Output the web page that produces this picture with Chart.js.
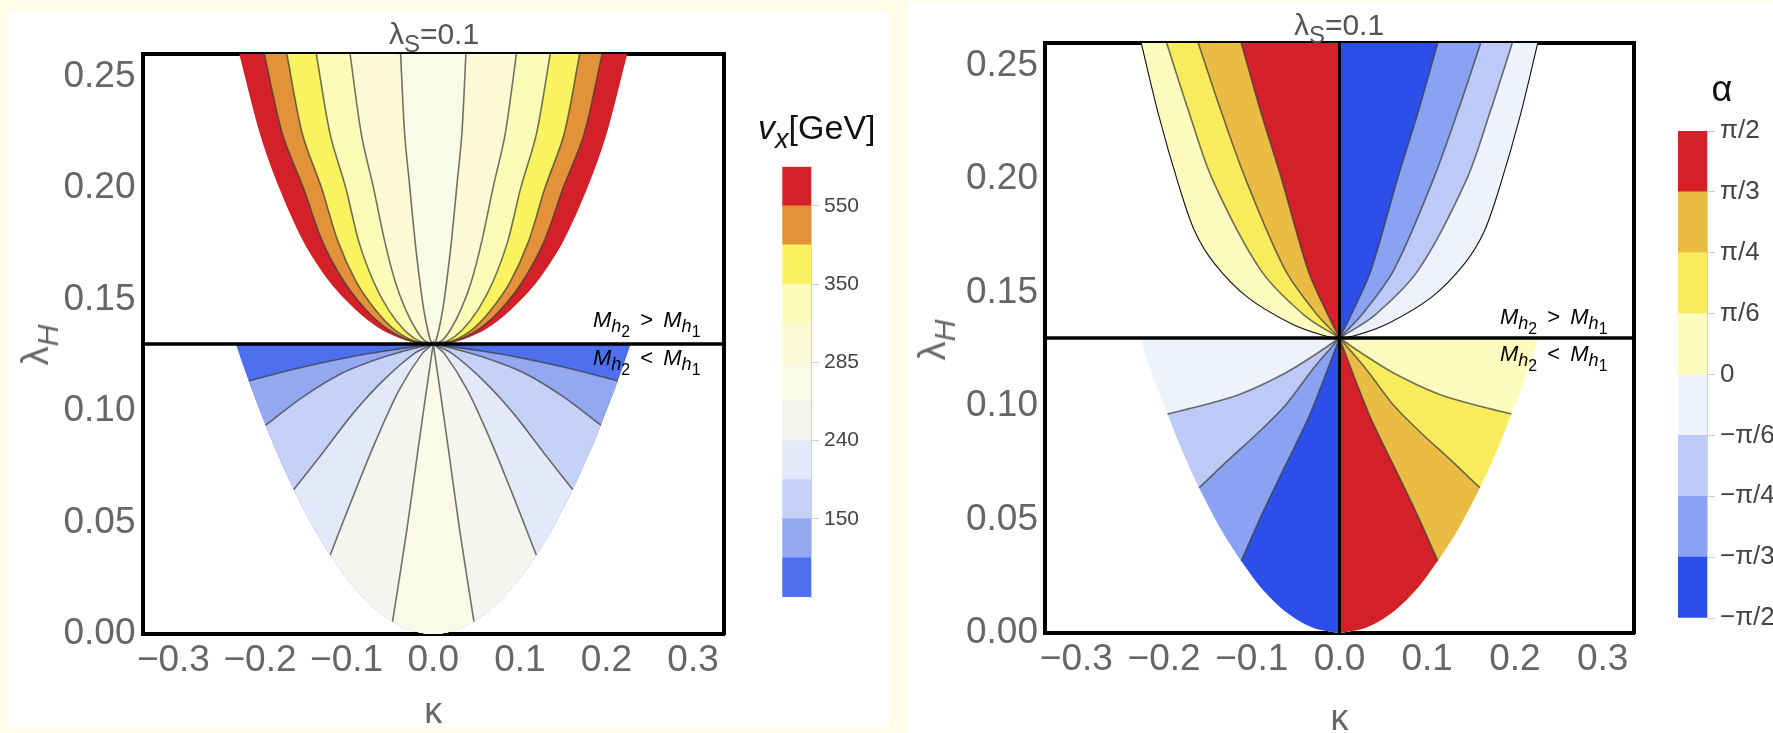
<!DOCTYPE html>
<html>
<head>
<meta charset="utf-8">
<script src="https://cdn.jsdelivr.net/npm/chart.js@4.4.0/dist/chart.umd.min.js"></script>
<style>
  html, body { margin: 0; padding: 0; width: 1773px; height: 733px; overflow: hidden;
               background: #fefde8; font-family: "Liberation Sans", Arial, sans-serif; }
  .panel { position: absolute; background: #fff; }
  canvas { position: absolute; }
  .lbl { position: absolute; white-space: nowrap; line-height: 1; }
  sub { font-size: 0.8em; vertical-align: -0.32em; line-height: 0; }
  .mh { font-size: 22px; color: #000; word-spacing: 4px; }
  .mh sub { font-size: 0.82em; vertical-align: -0.3em; }
  .mh sub sub { font-size: 0.88em; vertical-align: -0.3em; }
</style>
</head>
<body>
<div class="panel" style="left:9px;top:12px;width:881px;height:715px"></div>
<div class="panel" style="left:908px;top:2px;width:865px;height:731px"></div>

<canvas id="vxPlot" style="left:0;top:0" width="890" height="733"></canvas>
<canvas id="vxBar" style="left:765px;top:140px" width="125" height="480"></canvas>
<canvas id="alphaPlot" style="left:908px;top:0" width="865" height="745"></canvas>
<canvas id="alphaBar" style="left:1660px;top:105px" width="113" height="540"></canvas>

<div class="lbl" style="left:434px;top:34px;transform:translate(-50%,-50%);font-size:30px;color:#555">λ<sub>S</sub>=0.1</div>
<div class="lbl" style="left:1339px;top:25px;transform:translate(-50%,-50%);font-size:30px;color:#555">λ<sub>S</sub>=0.1</div>
<div class="lbl" style="left:35px;top:345px;transform:translate(-50%,-50%) rotate(-90deg);font-size:38px;color:#666">λ<sub><i>H</i></sub></div>
<div class="lbl" style="left:932px;top:340px;transform:translate(-50%,-50%) rotate(-90deg);font-size:38px;color:#666">λ<sub><i>H</i></sub></div>

<div class="lbl mh" style="left:593px;top:309px"><i>M</i><sub><i>h</i><sub>2</sub></sub> &gt; <i>M</i><sub><i>h</i><sub>1</sub></sub></div>
<div class="lbl mh" style="left:593px;top:347px"><i>M</i><sub><i>h</i><sub>2</sub></sub> &lt; <i>M</i><sub><i>h</i><sub>1</sub></sub></div>
<div class="lbl mh" style="left:1500px;top:306px"><i>M</i><sub><i>h</i><sub>2</sub></sub> &gt; <i>M</i><sub><i>h</i><sub>1</sub></sub></div>
<div class="lbl mh" style="left:1500px;top:343px"><i>M</i><sub><i>h</i><sub>2</sub></sub> &lt; <i>M</i><sub><i>h</i><sub>1</sub></sub></div>

<div class="lbl" style="left:758px;top:110px;font-size:34px;color:#111"><i>v</i><sub><i>x</i></sub>[GeV]</div>
<div class="lbl" style="left:1722px;top:89px;transform:translate(-50%,-50%);font-size:36px;color:#111">α</div>

<script>
// axes of both panels (κ horizontal, λ_H vertical, λ_S = 0.1)
const kappaTicks = [-0.3, -0.2, -0.1, 0, 0.1, 0.2, 0.3];
const lambdaTicks = [0, 0.05, 0.1, 0.15, 0.2, 0.25];
const kappaMax = 0.3357;
const lambdaMax = 0.26;
const vertex = [0, 0.13];          // M_h2 = M_h1

// ---- v_x panel ----
// outer edge of the M_h2 > M_h1 region, κ >= 0 half
const vxUpperEdge = [[0, 0.13], [0.03, 0.1315], [0.06, 0.1365], [0.09, 0.1455], [0.12, 0.158],
                     [0.15, 0.176], [0.178, 0.2], [0.2, 0.224], [0.224, 0.26]];
// contour lines above the vertex, outermost first (κ >= 0 half, vertex -> top)
const vxUp1 = [[0, 0.13], [0.026, 0.1315], [0.052, 0.1365], [0.078, 0.1455], [0.103, 0.158], [0.128, 0.176], [0.15, 0.2], [0.174, 0.224], [0.195, 0.26]];
const vxUp2 = [[0, 0.13], [0.0225, 0.1315], [0.045, 0.1365], [0.067, 0.1455], [0.089, 0.158], [0.11, 0.176], [0.129, 0.2], [0.151, 0.224], [0.169, 0.26]];
const vxUp3 = [[0, 0.13], [0.017, 0.1315], [0.034, 0.1365], [0.052, 0.1455], [0.069, 0.158], [0.086, 0.176], [0.101, 0.2], [0.119, 0.224], [0.135, 0.26]];
const vxUp4 = [[0, 0.13], [0.01, 0.1315], [0.02, 0.1365], [0.032, 0.1455], [0.044, 0.158], [0.056, 0.176], [0.069, 0.2], [0.083, 0.224], [0.096, 0.26]];
const vxUp5 = [[0, 0.13], [0.003, 0.1315], [0.0065, 0.1365], [0.011, 0.1455], [0.0155, 0.158], [0.021, 0.176], [0.027, 0.2], [0.033, 0.224], [0.0377, 0.26]];
const vxUpperColors = ['#d32029', '#e3923a', '#f9f35f', '#fdfbb8', '#fbfad4', '#fafbe6'];

// stability edge of the M_h2 < M_h1 region, κ >= 0 half
const vxLowerEdge = [[0, 0], [0.025, 0.0016], [0.047, 0.0055], [0.07, 0.0123], [0.095, 0.0226], [0.119, 0.0354],
                     [0.14, 0.049], [0.161, 0.0648], [0.18, 0.081], [0.1935, 0.0936], [0.213, 0.1134], [0.228, 0.13]];
// contour lines below the vertex, outermost first (vertex -> edge)
const vxDown1 = [[0, 0.13], [0.0393, 0.1278], [0.0837, 0.1251], [0.128, 0.1216], [0.1725, 0.1176], [0.213, 0.1134]];
const vxDown2 = [[0, 0.13], [0.0216, 0.1281], [0.0615, 0.1236], [0.106, 0.1168], [0.15, 0.1064], [0.1935, 0.0936]];
const vxDown3 = [[0, 0.13], [0.0216, 0.1258], [0.0571, 0.1139], [0.0926, 0.0989], [0.128, 0.081], [0.161, 0.0648]];
const vxDown4 = [[0, 0.13], [0.0127, 0.1258], [0.0393, 0.1094], [0.0659, 0.087], [0.0926, 0.0616], [0.119, 0.0354]];
const vxDown5 = [[0, 0.13], [0.0061, 0.1139], [0.0171, 0.084], [0.0305, 0.0466], [0.047, 0.0055]];
const vxLowerColors = ['#4e70ee', '#94a8f2', '#c6d1f7', '#e4e9f9', '#f3f5ee', '#fafbe6'];

// v_x colour bar, bottom -> top
const vxBandColors = ['#4e70ee', '#94a8f2', '#c6d1f7', '#e4e9f9', '#f3f5ee', '#fafbe6',
                      '#fbfad4', '#fdfbb8', '#f9f35f', '#e3923a', '#d32029'];
const vxBarTicks = [2, 4, 6, 8, 10];
const vxBarLabels = ['150', '240', '285', '350', '550'];

// ---- mixing angle panel ----
const alphaUpperEdge = [[0, 0.13], [0.02, 0.1313], [0.056, 0.1365], [0.105, 0.148], [0.143, 0.163],
                        [0.165, 0.177], [0.183, 0.197], [0.206, 0.228], [0.226, 0.26]];
// |α| = π/6, π/4, π/3 above the vertex (|κ| half, vertex -> top)
const alphaUp1 = [[0, 0.13], [0.04, 0.14], [0.09, 0.16], [0.145, 0.2], [0.172, 0.23], [0.197, 0.26]];
const alphaUp2 = [[0, 0.13], [0.025, 0.14], [0.062, 0.16], [0.107, 0.2], [0.135, 0.23], [0.161, 0.26]];
const alphaUp3 = [[0, 0.13], [0.013, 0.14], [0.036, 0.16], [0.066, 0.2], [0.09, 0.23], [0.112, 0.26]];
const alphaLowerEdge = [[0, 0], [0.03, 0.0023], [0.06, 0.009], [0.09, 0.0203], [0.112, 0.0318], [0.135, 0.0456],
                        [0.16, 0.064], [0.18, 0.081], [0.196, 0.0965], [0.212, 0.1124], [0.227, 0.13]];
// |α| = π/6, π/4, π/3 below the vertex (vertex -> edge)
const alphaDown1 = [[0, 0.13], [0.0237, 0.1237], [0.0622, 0.1145], [0.1135, 0.1052], [0.158, 0.1001], [0.196, 0.0965]];
const alphaDown2 = [[0, 0.13], [0.03, 0.1165], [0.0622, 0.1001], [0.094, 0.0878], [0.126, 0.0765], [0.16, 0.064]];
const alphaDown3 = [[0, 0.13], [0.0173, 0.1124], [0.0365, 0.0939], [0.0622, 0.0734], [0.0878, 0.0528], [0.112, 0.0318]];
// bands 0..π/6 .. π/3..π/2 and 0..−π/6 .. −π/3..−π/2
const alphaPosColors = ['#fefbbe', '#f8ec5c', '#ebbc44', '#d32029'];
const alphaNegColors = ['#eef2fb', '#bdcaf7', '#8aa2f2', '#2c4fe9'];
const alphaBandColors = ['#2c4fe9', '#8aa2f2', '#bdcaf7', '#eef2fb', '#fefbbe', '#f8ec5c', '#ebbc44', '#d32029'];
const alphaBarTicks = [0, 1, 2, 3, 4, 5, 6, 7, 8];
const alphaBarLabels = ['\u2212π/2', '\u2212π/3', '\u2212π/4', '\u2212π/6', '0', 'π/6', 'π/4', 'π/3', 'π/2'];

const contourGray = 'rgba(60,60,60,0.72)';

Chart.defaults.font.family = '"Liberation Sans", Arial, sans-serif';

// ---- path helpers ----
const mirror = pts => pts.map(([k, l]) => [-k, l]);
const side = (pts, s) => pts.map(([k, l]) => [s * k, l]);
const last = pts => pts[pts.length - 1];

// a repeated point keeps the spline sharp there
function pairPath(half) {
  return [...mirror(half).reverse(), half[0], ...half.slice(1)];
}
function smoothPath(half) {
  return [...mirror(half).reverse(), ...half.slice(1)];
}
function bowlPath(half, edge) {
  const end = last(half);
  const inner = edge.filter(p => p[0] < end[0] - 1e-6);
  return [...half, end, ...inner.slice().reverse(), ...mirror(inner).slice(1),
          [-end[0], end[1]], ...mirror(half).reverse()];
}
function wedgeUp(half, s) {
  const pts = side(half, s);
  return [...pts, last(pts), [0, lambdaMax]];
}
function wedgeDown(half, s, edge) {
  const pts = side(half, s);
  const inner = edge.filter(p => p[0] < last(half)[0] - 1e-6).reverse();
  return [...pts, last(pts), ...side(inner, s)];
}

function region(points, color) {
  return { data: points.map(([x, y]) => ({ x, y })), showLine: true, fill: 'shape',
           backgroundColor: color, borderColor: 'transparent', borderWidth: 0,
           pointRadius: 0, tension: 0.3 };
}
function curve(points, color, width) {
  return { data: points.map(([x, y]) => ({ x, y })), showLine: true, fill: false,
           borderColor: color, borderWidth: width, pointRadius: 0, tension: 0.3 };
}

function fmtKappa(v) {
  return (v < 0 ? '\u2212' : '') + Math.abs(v).toFixed(1);
}

function frameAxis(position) {
  const horiz = position === 'top';
  return {
    type: 'linear', position, z: 1,
    min: horiz ? -kappaMax : 0, max: horiz ? kappaMax : lambdaMax,
    afterFit: ax => { if (horiz) ax.height = 0; else ax.width = 0; },
    ticks: { display: false },
    grid: { display: false, drawTicks: false },
    border: { display: true, color: '#000', width: 4 }
  };
}

function plotOptions(pad, xHeight) {
  return {
    responsive: false, animation: false, events: [],
    layout: { padding: pad },
    plugins: { legend: { display: false }, tooltip: { enabled: false } },
    scales: {
      x: {
        type: 'linear', position: 'bottom', min: -kappaMax, max: kappaMax, z: 1,
        afterBuildTicks: ax => { ax.ticks = kappaTicks.map(v => ({ value: v })); },
        afterFit: ax => { ax.height = xHeight; },
        ticks: { autoSkip: false, maxRotation: 0, padding: 5, color: '#666',
                 font: { size: 37 }, callback: v => fmtKappa(v) },
        grid: { display: false, drawTicks: false },
        border: { display: true, color: '#000', width: 4 },
        title: { display: true, text: 'κ', color: '#666', padding: 0,
                 font: { size: 36, lineHeight: 1 } }
      },
      y: {
        type: 'linear', position: 'left', min: 0, max: lambdaMax, z: 1,
        afterBuildTicks: ax => { ax.ticks = lambdaTicks.map(v => ({ value: v })); },
        afterFit: ax => { ax.width = 100; },
        ticks: { padding: 7, color: '#666', font: { size: 37 }, callback: v => v.toFixed(2) },
        grid: { display: false, drawTicks: false },
        border: { display: true, color: '#000', width: 4 }
      },
      xTop: frameAxis('top'),
      yRight: frameAxis('right')
    }
  };
}

function colorBar(id, colors, tickPos, tickText, pad, axisWidth, fontSize) {
  new Chart(document.getElementById(id), {
    type: 'bar',
    data: {
      labels: [''],
      datasets: colors.map(c => ({ data: [1], backgroundColor: c, borderWidth: 0,
                                   barPercentage: 1, categoryPercentage: 1 }))
    },
    options: {
      responsive: false, animation: false, events: [],
      layout: { padding: pad },
      plugins: { legend: { display: false }, tooltip: { enabled: false } },
      scales: {
        x: { display: false, stacked: true },
        y: {
          stacked: true, position: 'right', min: 0, max: colors.length,
          afterBuildTicks: ax => { ax.ticks = tickPos.map(v => ({ value: v })); },
          afterFit: ax => { ax.width = axisWidth; },
          ticks: { padding: 5, color: '#444', font: { size: fontSize },
                   callback: v => tickText[tickPos.indexOf(v)] },
          grid: { drawOnChartArea: false, tickLength: 8, color: '#d0d0d0' },
          border: { color: '#d0d0d0' }
        }
      }
    }
  });
}

// ---- v_x panel datasets, painted back to front ----
const vxUpperContours = [vxUp1, vxUp2, vxUp3, vxUp4, vxUp5];
const vxLowerContours = [vxDown1, vxDown2, vxDown3, vxDown4, vxDown5];
const vxSets = [];
vxSets.push(region(smoothPath(vxUpperEdge), vxUpperColors[0]));
vxUpperContours.forEach((c, i) => vxSets.push(region(pairPath(c), vxUpperColors[i + 1])));
vxSets.push(region(bowlPath([vertex, last(vxLowerEdge)], vxLowerEdge), vxLowerColors[0]));
vxLowerContours.forEach((c, i) => vxSets.push(region(bowlPath(c, vxLowerEdge), vxLowerColors[i + 1])));
[...vxUpperContours, ...vxLowerContours].forEach(c => vxSets.push(curve(pairPath(c), contourGray, 1.6)));
vxSets.push(curve([[-1, vertex[1]], [1, vertex[1]]], '#000', 3.5));
vxSets.forEach((d, i) => { d.order = -i; });

new Chart(document.getElementById('vxPlot'), {
  type: 'scatter',
  data: { datasets: vxSets },
  options: plotOptions({ left: 42.5, top: 54, right: 166, bottom: 2 }, 97)
});

// ---- α panel datasets ----
const alphaUpperContours = [alphaUp1, alphaUp2, alphaUp3];
const alphaLowerContours = [alphaDown1, alphaDown2, alphaDown3];
const alphaSets = [];
// κ < 0 above the vertex is positive α, κ > 0 negative; reversed below
[[-1, alphaPosColors], [1, alphaNegColors]].forEach(([s, cols]) => {
  alphaSets.push(region(wedgeUp(alphaUpperEdge, s), cols[0]));
  alphaUpperContours.forEach((c, i) => alphaSets.push(region(wedgeUp(c, s), cols[i + 1])));
});
[[-1, alphaNegColors], [1, alphaPosColors]].forEach(([s, cols]) => {
  alphaSets.push(region(wedgeDown([vertex, last(alphaLowerEdge)], s, alphaLowerEdge), cols[0]));
  alphaLowerContours.forEach((c, i) => alphaSets.push(region(wedgeDown(c, s, alphaLowerEdge), cols[i + 1])));
});
[...alphaUpperContours, ...alphaLowerContours].forEach(c => alphaSets.push(curve(pairPath(c), contourGray, 1.6)));
alphaSets.push(curve(smoothPath(alphaUpperEdge), '#111', 1.1));
alphaSets.push(curve([[-1, vertex[1]], [1, vertex[1]]], '#000', 3.5));
alphaSets.push(curve([[0, -1], [0, 1]], '#000', 3));
alphaSets.forEach((d, i) => { d.order = -i; });

new Chart(document.getElementById('alphaPlot'), {
  type: 'scatter',
  data: { datasets: alphaSets },
  options: plotOptions({ left: 37, top: 43, right: 139, bottom: 7 }, 105)
});

colorBar('vxBar', vxBandColors, vxBarTicks, vxBarLabels,
         { left: 17.3, top: 26.7, right: 0, bottom: 23 }, 79, 21);
colorBar('alphaBar', alphaBandColors, alphaBarTicks, alphaBarLabels,
         { left: 18, top: 26, right: 0, bottom: 27 }, 66, 26);
</script>
</body>
</html>
